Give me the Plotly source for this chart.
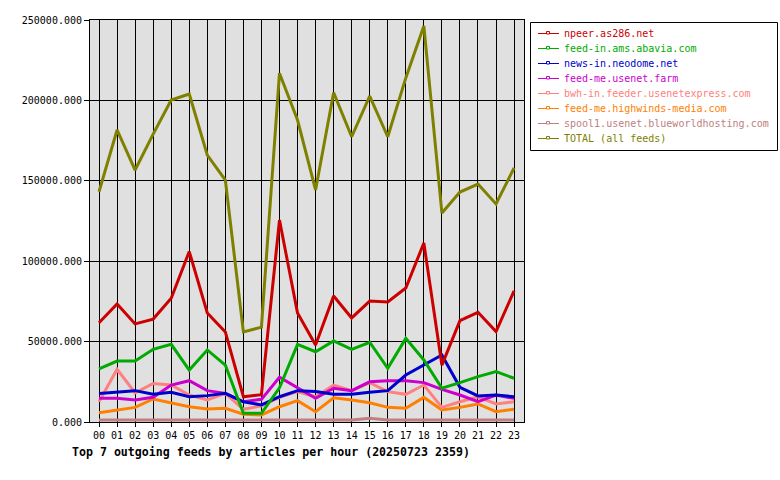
import plotly.graph_objects as go

hours = [f"{h:02d}" for h in range(24)]

npeer = [61.7, 73.4, 61.0, 64.0, 77.0, 106.0, 67.8, 56.0, 15.7, 17.0, 125.6, 67.8,
         47.9, 78.4, 64.7, 75.2, 74.6, 83.3, 111.3, 35.4, 63.0, 68.2, 56.2, 81.5]
abavia = [33.0, 37.9, 37.9, 45.2, 48.3, 32.3, 44.8, 35.4, 5.4, 5.4, 21.3, 48.3,
          43.7, 50.4, 45.2, 49.6, 33.4, 52.0, 38.6, 21.0, 24.5, 28.2, 31.3, 27.2]
neodome = [17.8, 18.5, 19.5, 17.2, 18.5, 15.7, 16.4, 17.8, 12.6, 10.6, 15.7, 19.5,
           18.9, 17.2, 17.2, 18.5, 19.5, 29.2, 35.4, 41.7, 21.6, 16.2, 16.8, 15.7]
usenetfarm = [14.7, 14.7, 13.7, 15.4, 23.0, 25.7, 19.5, 17.8, 12.6, 14.1, 27.8, 21.0,
              14.7, 21.0, 19.5, 25.0, 25.7, 25.7, 24.5, 20.3, 16.8, 12.6, 16.8, 14.7]
bwh = [12.6, 32.8, 18.2, 24.0, 23.0, 16.8, 13.7, 17.8, 7.9, 10.0, 15.3, 18.9,
       15.7, 23.0, 19.5, 24.5, 18.9, 17.2, 23.0, 9.1, 12.6, 15.7, 11.2, 12.6]
highwinds = [5.8, 7.5, 9.1, 14.3, 12.0, 9.5, 8.1, 8.5, 4.8, 4.4, 9.5, 13.3,
             6.4, 15.1, 13.7, 12.0, 9.1, 8.5, 15.3, 7.5, 9.1, 11.2, 6.4, 7.9]
spool1 = [1.2, 1.2, 1.2, 1.2, 1.2, 1.2, 1.2, 1.2, 1.2, 1.2, 1.2, 1.2,
          1.2, 1.2, 1.2, 2.3, 1.2, 1.2, 1.2, 1.2, 1.2, 1.2, 1.2, 1.2]
total = [143.2, 181.6, 156.7, 179.0, 200.2, 204.0, 166.0, 150.5, 56.0, 59.0, 216.9, 187.8,
         144.3, 204.8, 177.4, 202.7, 177.4, 214.0, 246.3, 130.0, 143.0, 148.0, 135.6, 158.0]

names = ["npeer.as286.net", "feed-in.ams.abavia.com", "news-in.neodome.net",
         "feed-me.usenet.farm", "bwh-in.feeder.usenetexpress.com",
         "feed-me.highwinds-media.com", "spool1.usenet.blueworldhosting.com",
         "TOTAL (all feeds)"]
colors = ["#cc0000", "#00aa00", "#0000cc", "#cc00cc", "#ff8080", "#ff8000",
          "#c08080", "#808000"]
series = [npeer, abavia, neodome, usenetfarm, bwh, highwinds, spool1, total]

FONT = "DejaVu Sans Mono"
x = list(range(24))

# plot area in pixels
L, R, T, B = 90, 524, 20, 422
def px(v):
    return (v - L) / (R - L)
def py(v):
    return (B - v) / (B - T)

fig = go.Figure()
order = [6, 5, 4, 3, 2, 1, 0, 7]
for i in order:
    fig.add_trace(go.Scatter(
        x=x, y=[v * 1000 for v in series[i]], mode="lines",
        line=dict(color=colors[i], width=3), showlegend=False,
        hoverinfo="skip"))

# custom legend (layout decoration)
shapes = [dict(type="rect", xref="paper", yref="paper",
               x0=px(530.5), x1=px(777.5), y0=py(22.5), y1=py(150.5),
               line=dict(color="black", width=1), fillcolor="white", layer="above")]
annotations = []
for i, nm in enumerate(names):
    yc = 33.5 + 15 * i
    shapes.append(dict(type="line", xref="paper", yref="paper",
                       x0=px(538), x1=px(559), y0=py(yc), y1=py(yc),
                       line=dict(color=colors[i], width=1), layer="above"))
    shapes.append(dict(type="rect", xref="paper", yref="paper",
                       x0=px(546.5), x1=px(549.5), y0=py(yc - 2), y1=py(yc + 0.5),
                       line=dict(color=colors[i], width=1), fillcolor="white",
                       layer="above"))
    annotations.append(dict(text=nm, xref="paper", yref="paper", x=px(561.5),
                            y=py(yc), xanchor="left", yanchor="middle",
                            showarrow=False,
                            font=dict(family=FONT, size=10, color=colors[i])))

fig.update_layout(
    width=780, height=480,
    margin=dict(l=L, r=780 - R, t=T, b=480 - B),
    paper_bgcolor="white", plot_bgcolor="#e0e0e0",
    font=dict(family=FONT, size=10, color="black"),
    title=dict(text="<b>Top 7 outgoing feeds by articles per hour (20250723 2359)</b>",
               font=dict(family=FONT, size=11.6, color="black"),
               xref="container", yref="container", x=72/780, xanchor="left",
               y=1-452/480, yanchor="middle"),
    showlegend=False,
    shapes=shapes,
    annotations=annotations,
)
fig.update_xaxes(range=[-0.5, 23.55], tickmode="array", tickvals=x, ticktext=hours,
                 showgrid=True, gridcolor="black", gridwidth=1,
                 showline=True, linecolor="black", linewidth=1, mirror=True,
                 ticks="outside", ticklen=4, tickcolor="black", zeroline=False,
                 tickfont=dict(family=FONT, size=10))
fig.update_yaxes(range=[0, 250000], tickmode="linear", tick0=0, dtick=50000,
                 tickformat=".3f", showgrid=True, gridcolor="black", gridwidth=1,
                 showline=True, linecolor="black", linewidth=1, mirror=True,
                 ticks="outside", ticklen=5, tickcolor="black", zeroline=False,
                 tickfont=dict(family=FONT, size=10))

fig.write_html("out.html")
